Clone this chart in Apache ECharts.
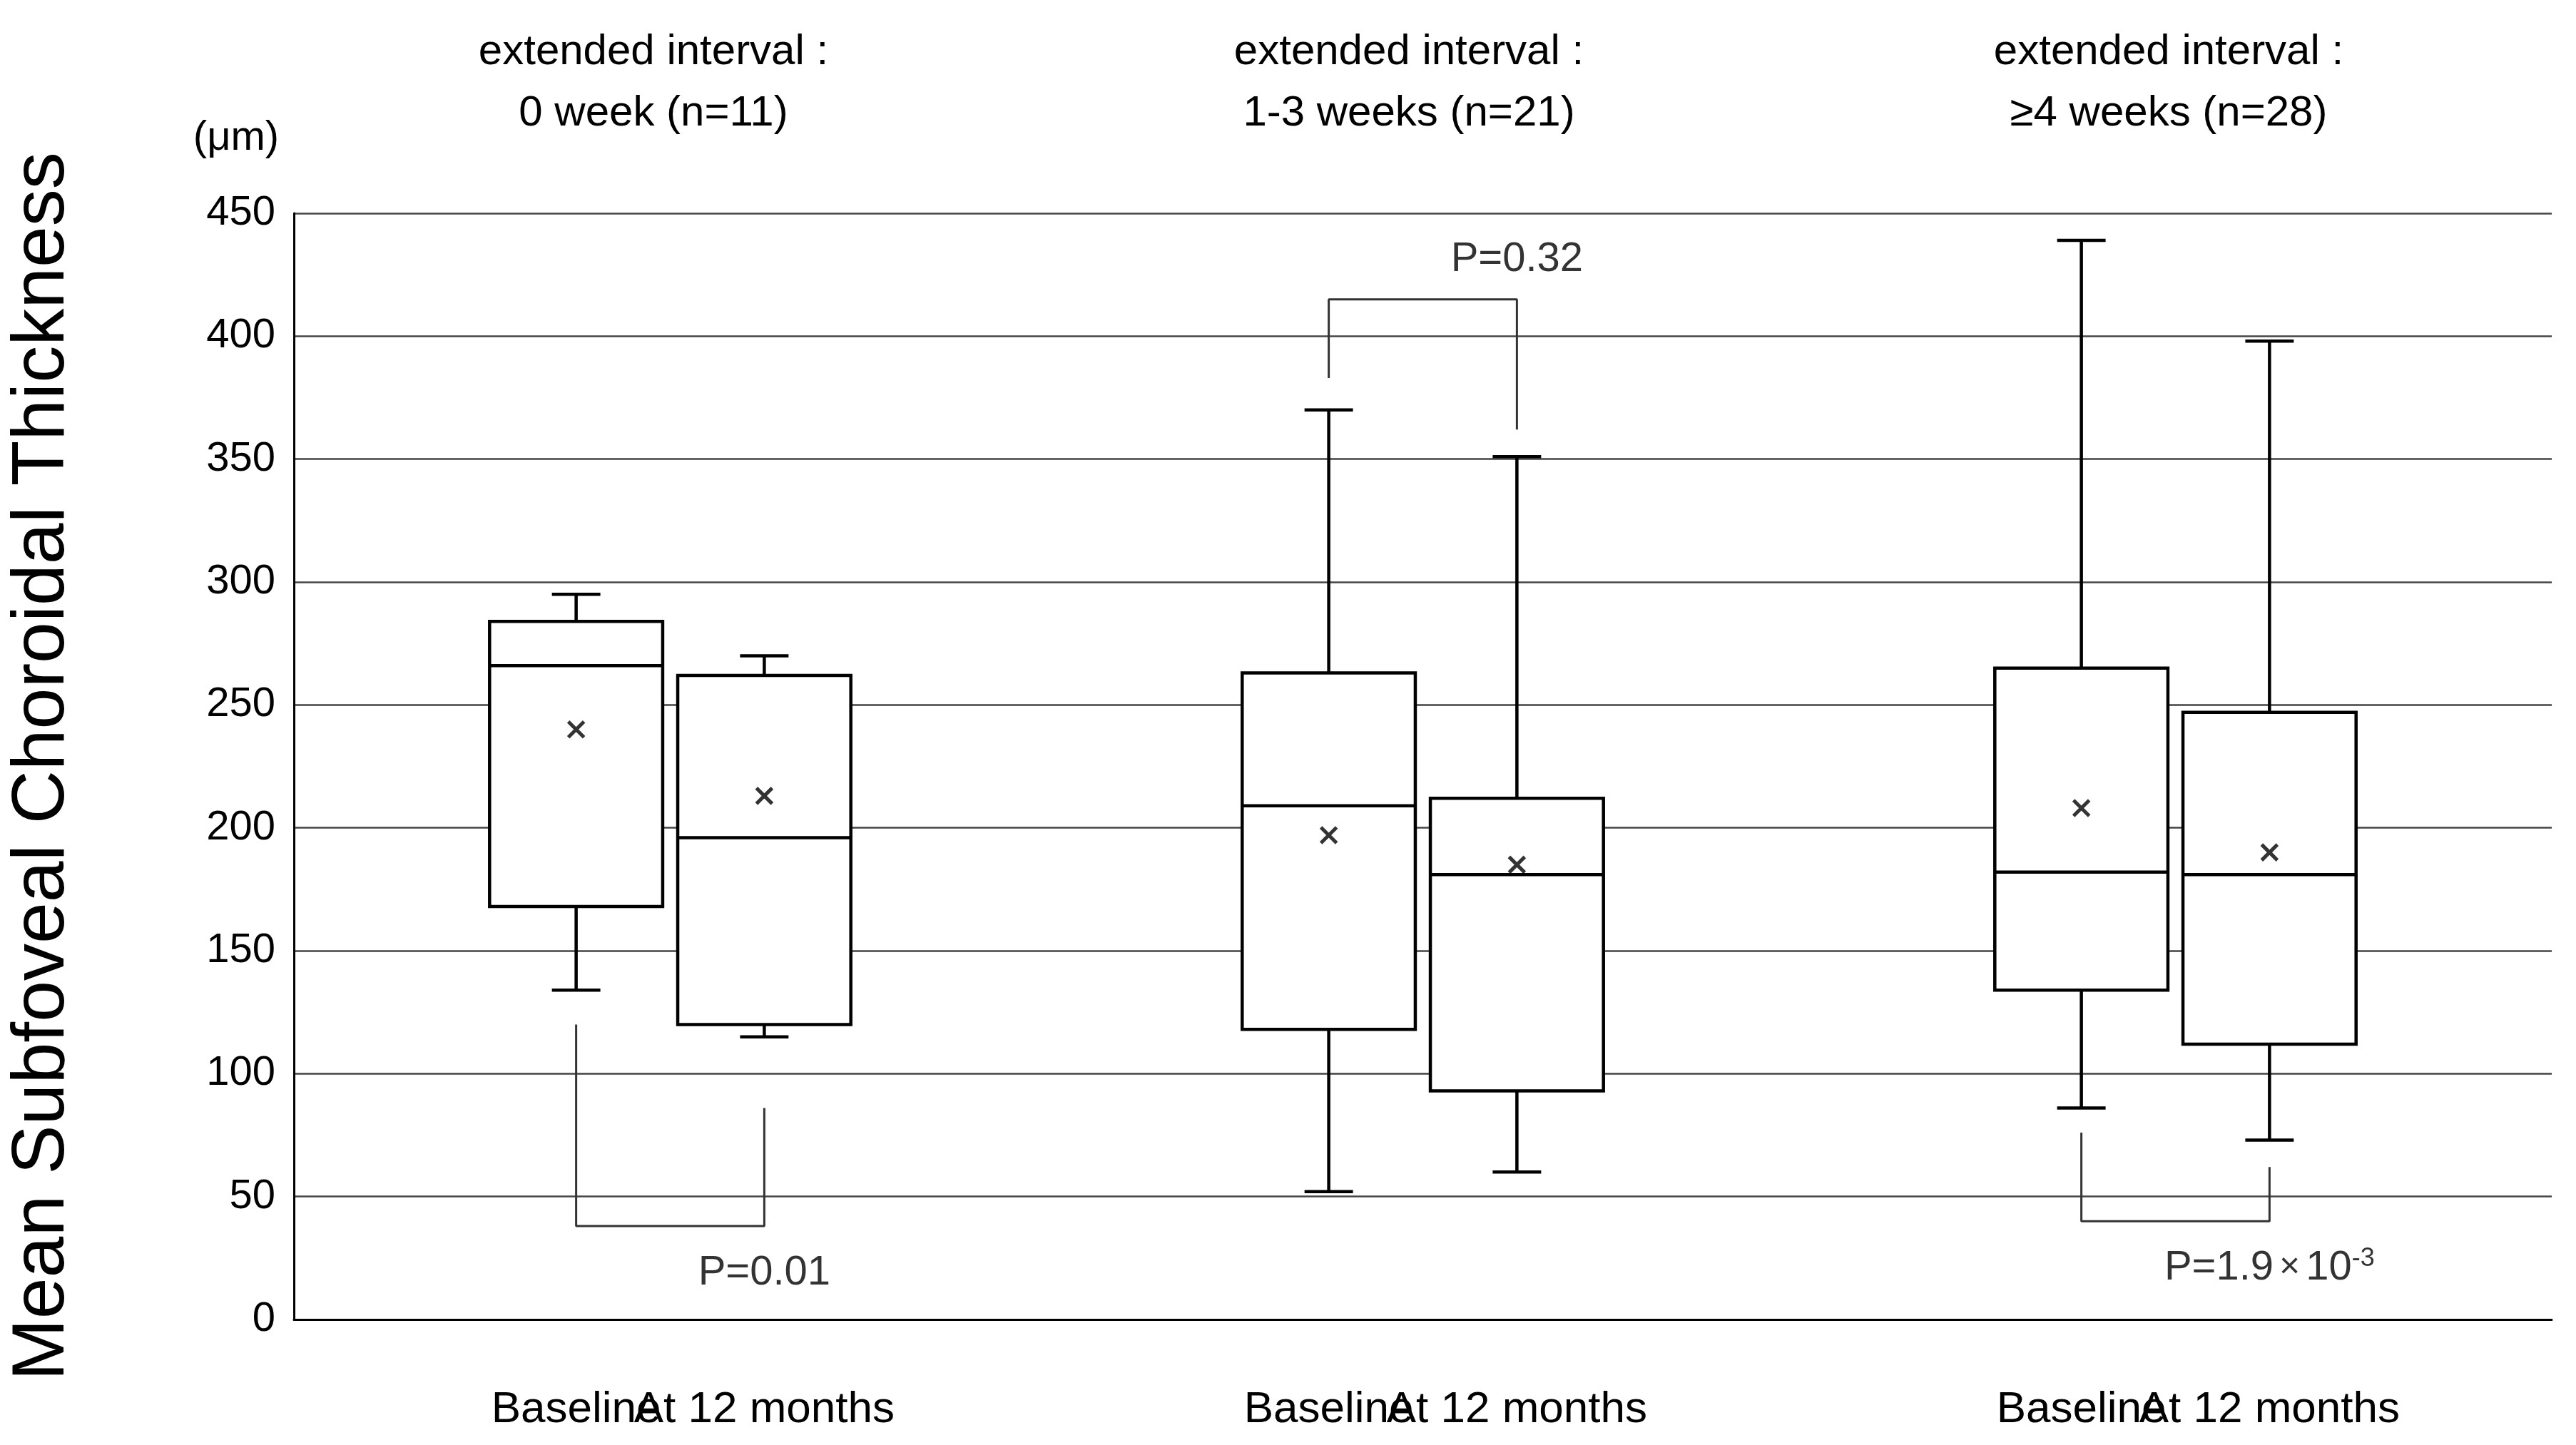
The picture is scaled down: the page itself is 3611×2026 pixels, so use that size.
<!DOCTYPE html>
<html><head><meta charset="utf-8">
<script src="https://cdn.jsdelivr.net/npm/echarts@6/dist/echarts.min.js"></script>
<style>html,body{margin:0;background:#fff}#main{width:3611px;height:2026px}</style>
</head><body><div id="main"></div>
<script>
// 12 slots, boxes sit in slots 1,2,5,6,9,10
var categories = ['', 'Baseline', 'At 12 months', '', '', 'Baseline', 'At 12 months', '', '', 'Baseline', 'At 12 months', ''];
var boxSlots = [1, 2, 5, 6, 9, 10];
// [min, Q1, median, Q3, max]
var boxValues = [
  [134, 168, 266, 284, 295],
  [115, 120, 196, 262, 270],
  [52, 118, 209, 263, 370],
  [60, 93, 181, 212, 351],
  [86, 134, 182, 265, 439],
  [73, 112, 181, 247, 398]
];
var meanValues = [240, 213, 197, 185, 208, 190];
var groupTitles = ['extended interval :\n0 week (n=11)', 'extended interval :\n1-3 weeks (n=21)', 'extended interval :\n≥4 weeks (n=28)'];
var yTicks = [0, 50, 100, 150, 200, 250, 300, 350, 400, 450];
var brackets = [
  [[1, 120], [1, 38], [2, 38], [2, 86]],
  [[5, 383], [5, 415], [6, 415], [6, 362]],
  [[9, 76], [9, 40], [10, 40], [10, 62]]
];
var pLabels = [
  {x: 1.5, y: 19, text: 'P=0.01'},
  {x: 5.5, y: 431, text: 'P=0.32'},
  {x: 9.5, y: 21, text: 'P=1.9{t|×}10{s|-3}'}
];

var chart = echarts.init(document.getElementById('main'));
var font = 'Liberation Sans, Arial, sans-serif';
var boxData = boxSlots.map(function (s, i) { return [s].concat(boxValues[i]); });
var meanData = boxSlots.map(function (s, i) { return [s, meanValues[i]]; });

var series = [{
  type: 'custom',
  data: boxData,
  renderItem: function (params, api) {
    var x = api.value(0);
    var w = api.size([1, 0])[0] * 0.92;
    var cap = w * 0.28;
    var p = [1, 2, 3, 4, 5].map(function (k) { return api.coord([x, api.value(k)]); });
    var cx = p[0][0];
    var st = {stroke: '#000', lineWidth: 4.5, fill: null};
    return {type: 'group', children: [
      {type: 'line', shape: {x1: cx, y1: p[0][1], x2: cx, y2: p[1][1]}, style: st},
      {type: 'line', shape: {x1: cx, y1: p[3][1], x2: cx, y2: p[4][1]}, style: st},
      {type: 'line', shape: {x1: cx - cap / 2, y1: p[0][1], x2: cx + cap / 2, y2: p[0][1]}, style: st},
      {type: 'line', shape: {x1: cx - cap / 2, y1: p[4][1], x2: cx + cap / 2, y2: p[4][1]}, style: st},
      {type: 'rect', shape: {x: cx - w / 2, y: p[3][1], width: w, height: p[1][1] - p[3][1]}, style: {stroke: '#000', lineWidth: 4.5, fill: '#fff'}},
      {type: 'line', shape: {x1: cx - w / 2, y1: p[2][1], x2: cx + w / 2, y2: p[2][1]}, style: st}
    ]};
  },
  z: 3
}, {
  type: 'scatter',
  data: meanData,
  symbol: 'path://M0,0L10,10M10,0L0,10',
  symbolSize: 22,
  itemStyle: {color: 'none', borderColor: '#000', borderWidth: 5},
  z: 5
}];
brackets.forEach(function (b) {
  series.push({type: 'line', data: b, symbol: 'none', lineStyle: {color: '#333', width: 3}, silent: true, z: 4});
});
series.push({
  type: 'scatter', symbolSize: 0, z: 6,
  data: pLabels.map(function (p) { return {value: [p.x, p.y], label: {formatter: p.text}}; }),
  label: {show: true, position: 'inside', color: '#000', fontSize: 58, fontFamily: font,
    rich: {s: {fontSize: 36, verticalAlign: 'top', padding: [0, 0, 26, 0], fontFamily: font}, t: {fontSize: 50, padding: [0, 8, 0, 8], fontFamily: font}}}
});

var graphics = groupTitles.map(function (t, i) {
  return {type: 'text', x: [916, 1975, 3040][i], y: 30, style: {text: t, font: '60px ' + font, fill: '#000', textAlign: 'center', lineHeight: 86}};
});
graphics.push({type: 'text', x: 331, y: 194, style: {text: '(μm)', font: '58px ' + font, fill: '#000', textAlign: 'center', textVerticalAlign: 'middle'}});

chart.setOption({
  animation: false,
  grid: {left: 412, right: 34, top: 299, bottom: 176},
  xAxis: {type: 'category', data: categories, boundaryGap: true,
    axisLine: {lineStyle: {color: '#000', width: 3}}, axisTick: {show: false},
    axisLabel: {interval: 0, color: '#000', fontSize: 62, fontFamily: font, margin: 96}},
  yAxis: {type: 'value', min: 0, max: 450, interval: 50,
    name: 'Mean Subfoveal Choroidal Thickness', nameLocation: 'middle', nameGap: 300,
    nameTextStyle: {fontSize: 104, color: '#000', fontFamily: font},
    axisLine: {show: true, lineStyle: {color: '#000', width: 3}}, axisTick: {show: false},
    axisLabel: {color: '#000', fontSize: 58, fontFamily: font, margin: 26,
      formatter: function (v) { return yTicks.indexOf(v) >= 0 ? String(v) : ''; }},
    splitLine: {lineStyle: {color: '#444', width: 2.5}}},
  graphic: graphics,
  series: series
});
</script></body></html>
